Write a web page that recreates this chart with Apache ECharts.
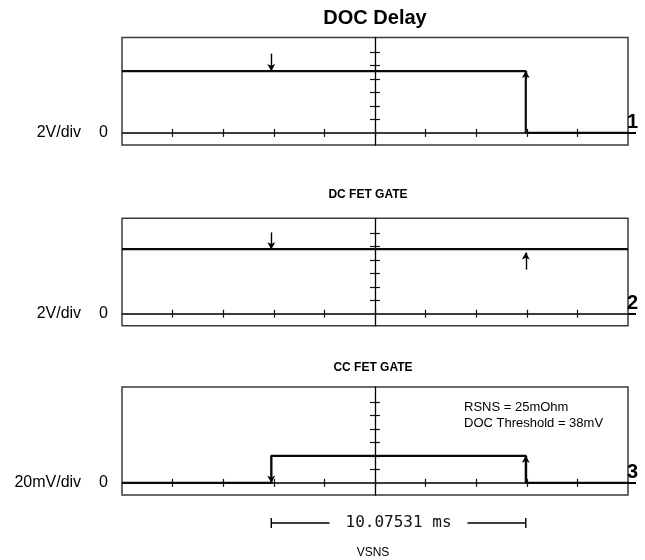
<!DOCTYPE html>
<html>
<head>
<meta charset="utf-8">
<script src="https://cdn.jsdelivr.net/npm/echarts/dist/echarts.min.js"></script>
<style>
html,body{margin:0;padding:0;background:#fff}
#c{width:645px;height:560px}
</style>
</head>
<body>
<div id="c"></div>
<script>
// ---- Data (x: horizontal divisions from screen centre, y: vertical graticule units above ground) ----
const panelTitles   = ['DOC Delay', 'DC FET GATE', 'CC FET GATE'];
const scaleLabels   = ['2V/div', '2V/div', '20mV/div'];
const channelLabels = ['1', '2', '3'];
const xTicks = [-4, -3, -2, -1, 0, 1, 2, 3, 4];
const yTicks = [1, 2, 3, 4, 5, 6];
const cursorA = -2.05;
const cursorB = 2.98;

const docDelay  = [[-5, 4.6], [2.98, 4.6], [2.98, 0], [5, 0]];
const dcFetGate = [[-5, 4.8], [-1.75, 4.8], [-1.72, 4.72], [-1.69, 4.8], [0.33, 4.8], [0.36, 4.73], [0.39, 4.8],
                   [1.74, 4.8], [1.77, 4.73], [1.8, 4.8], [2.72, 4.8], [2.75, 4.73], [2.78, 4.8],
                   [4.58, 4.8], [4.61, 4.73], [4.64, 4.8], [5, 4.8]];
const ccFetGate = [[-5, 0], [-2.05, 0], [-2.05, 2], [2.98, 2], [2.98, 0], [5, 0]];

// cursor arrows: [x, fromY, toY]  (arrow head at toY)
const arrowsDoc = [[-2.05, 5.9, 4.6], [2.98, 4.0, 4.6]];
const arrowsDc  = [[-2.05, 6.05, 4.8], [2.98, 3.28, 4.55]];
const arrowsCc  = [[-2.05, 2, 0], [2.98, 0, 2]];

const measureText = '10.07531 ms';
const noteLines   = ['RSNS = 25mOhm', 'DOC Threshold = 38mV'];
const bottomLabel = 'VSNS';

// ---- Layout ----
const signals = [docDelay, dcFetGate, ccFetGate];
const arrows  = [arrowsDoc, arrowsDc, arrowsCc];
const tops    = [37.5, 218.3, 387];
const heights = [107.5, 107.5, 108];
const Y_MIN = -0.9, Y_MAX = 7.1;
const SANS = 'Liberation Sans, Arial, sans-serif';

const grids = [], xAxes = [], yAxes = [], series = [];

for (let i = 0; i < 3; i++) {
  grids.push({left: 122, right: 17, top: tops[i], height: heights[i], show: true,
              borderColor: '#3a3a3a', borderWidth: 1.5, backgroundColor: 'transparent'});
  const xi = xAxes.length, yi = yAxes.length;
  const tickStyle = {color: '#111', width: 1.2};
  const xBase = {type: 'value', gridIndex: i, min: -5, max: 5, position: 'bottom',
                 splitLine: {show: false}, axisLabel: {show: false}};
  xAxes.push(Object.assign({}, xBase, {
    axisLine: {show: true, onZero: true, onZeroAxisIndex: yi, lineStyle: {color: '#3c3c3c', width: 2}},
    axisTick: {show: true, inside: false, length: 4, customValues: xTicks, lineStyle: tickStyle}
  }));
  xAxes.push(Object.assign({}, xBase, {
    axisLine: {show: false, onZero: true, onZeroAxisIndex: yi},
    axisTick: {show: true, inside: true, length: 4, customValues: xTicks, lineStyle: tickStyle}
  }));
  const yBase = {type: 'value', gridIndex: i, min: Y_MIN, max: Y_MAX, splitLine: {show: false}};
  yAxes.push(Object.assign({}, yBase, {
    position: 'left',
    axisLine: {show: true, onZero: true, onZeroAxisIndex: xi, lineStyle: {color: '#000', width: 1.3}},
    axisTick: {show: true, inside: false, length: 5, customValues: yTicks, lineStyle: tickStyle},
    axisLabel: {show: false}
  }));
  yAxes.push(Object.assign({}, yBase, {
    position: 'left',
    axisLine: {show: false, onZero: true, onZeroAxisIndex: xi},
    axisTick: {show: true, inside: true, length: 5, customValues: yTicks, lineStyle: tickStyle},
    axisLabel: {show: false}
  }));
  // scale label on the left
  yAxes.push(Object.assign({}, yBase, {
    position: 'left',
    axisLine: {show: false, onZero: false},
    axisTick: {show: false},
    axisLabel: {show: true, customValues: [0], margin: 14,
      formatter: () => '{a|' + scaleLabels[i] + '}{b|0}',
      rich: {a: {fontSize: 16, fontFamily: SANS, color: '#000'},
             b: {fontSize: 16, fontFamily: SANS, color: '#000', padding: [0, 0, 0, 18]}}}
  }));
  // channel marker on the right
  yAxes.push(Object.assign({}, yBase, {
    position: 'right',
    axisLine: {show: false, onZero: false},
    axisTick: {show: true, inside: false, length: 8, customValues: [0], lineStyle: {color: '#000', width: 2}},
    axisLabel: {show: true, customValues: [0], margin: -1, verticalAlign: 'bottom',
      formatter: () => channelLabels[i],
      fontSize: 20, fontWeight: 'bold', fontFamily: SANS, color: '#000'}
  }));

  series.push({
    type: 'line', xAxisIndex: xi, yAxisIndex: yi, data: signals[i],
    showSymbol: false, symbol: 'none', animation: false, z: 5,
    lineStyle: {color: '#0a0a0a', width: 2.2},
    markLine: {
      silent: true, animation: false,
      symbol: ['none', 'arrow'], symbolSize: [6, 7],
      label: {show: false},
      lineStyle: {color: '#000', width: 1.4, type: 'solid'},
      data: arrows[i].map(a => [{coord: [a[0], a[1]]}, {coord: [a[0], a[2]]}])
    }
  });
}

// measurement bar grid
grids.push({left: 122, right: 17, top: 513, height: 20, show: false});
xAxes.push({type: 'value', gridIndex: 3, min: -5, max: 5, show: false});
yAxes.push({type: 'value', gridIndex: 3, min: -1, max: 1, show: false});
series.push({
  type: 'line', xAxisIndex: xAxes.length - 1, yAxisIndex: yAxes.length - 1,
  data: [[cursorA, 0], [cursorB, 0]],
  symbol: 'rect', symbolSize: [1.4, 10], showSymbol: true, animation: false,
  itemStyle: {color: '#000'},
  lineStyle: {color: '#000', width: 1.3},
  markPoint: {
    animation: false, silent: true,
    symbol: 'circle', symbolSize: 1, itemStyle: {color: 'rgba(0,0,0,0)'},
    data: [{coord: [(cursorA + cursorB) / 2, 0]}],
    label: {show: true, position: 'inside', formatter: measureText,
            fontFamily: 'DejaVu Sans Mono, Liberation Mono, monospace', fontSize: 16, color: '#111',
            backgroundColor: '#fff', padding: [2, 16]}
  }
});

const txt = (text, x, y, size, weight, align) => ({
  type: 'text', x: x, y: y, silent: true,
  style: {text: text, fontSize: size, fontWeight: weight, fontFamily: SANS, fill: '#000',
          align: align, verticalAlign: 'middle'}
});

const option = {
  animation: false,
  backgroundColor: '#fff',
  grid: grids, xAxis: xAxes, yAxis: yAxes, series: series,
  graphic: [
    txt(panelTitles[0], 375, 18, 20, 'bold', 'center'),
    txt(panelTitles[1], 368, 194.5, 12, 'bold', 'center'),
    txt(panelTitles[2], 373, 368, 12, 'bold', 'center'),
    txt(noteLines[0], 464, 407.5, 13, 'normal', 'left'),
    txt(noteLines[1], 464, 423.5, 13, 'normal', 'left'),
    txt(bottomLabel, 373, 553, 12, 'normal', 'center')
  ]
};

const chart = echarts.init(document.getElementById('c'), null, {renderer: 'canvas'});
chart.setOption(option);
</script>
</body>
</html>
